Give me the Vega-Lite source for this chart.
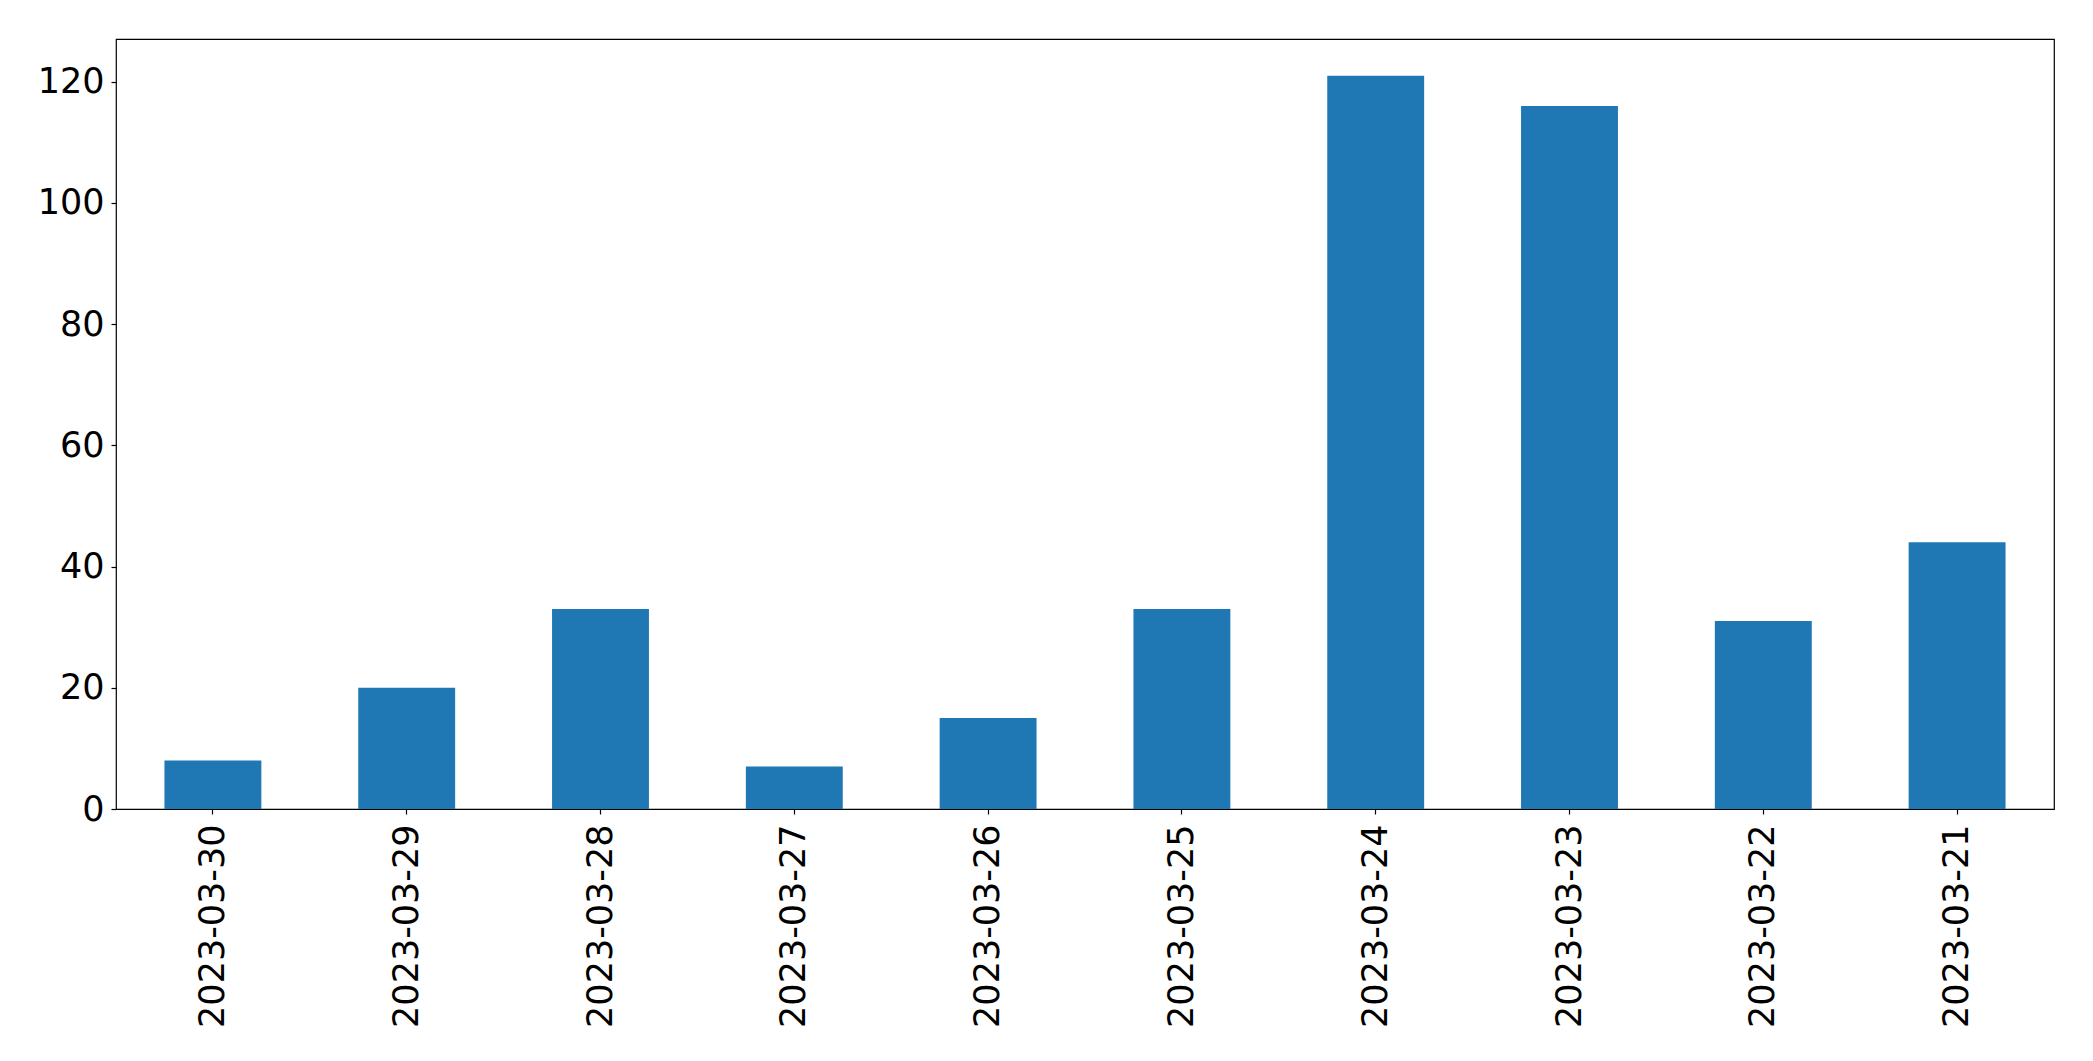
{
  "$schema": "https://vega.github.io/schema/vega-lite/v6.json",
  "autosize": {"type": "none"},
  "width": 1938,
  "height": 770,
  "padding": {"left": 116, "top": 39, "right": 39, "bottom": 252},
  "background": "white",
  "config": {
    "view": {"stroke": "black", "strokeWidth": 1.2},
    "font": "DejaVu Sans",
    "axis": {"labelFont": "DejaVu Sans", "labelColor": "black", "tickColor": "black", "domainColor": "black", "grid": false, "labelLimit": 0}
  },
  "data": {
    "values": [
      {"date": "2023-03-30", "count": 8},
      {"date": "2023-03-29", "count": 20},
      {"date": "2023-03-28", "count": 33},
      {"date": "2023-03-27", "count": 7},
      {"date": "2023-03-26", "count": 15},
      {"date": "2023-03-25", "count": 33},
      {"date": "2023-03-24", "count": 121},
      {"date": "2023-03-23", "count": 116},
      {"date": "2023-03-22", "count": 31},
      {"date": "2023-03-21", "count": 44}
    ]
  },
  "mark": {"type": "bar", "color": "#1f77b4"},
  "encoding": {
    "x": {
      "field": "date",
      "type": "nominal",
      "sort": null,
      "scale": {"paddingInner": 0.5, "paddingOuter": 0.25},
      "axis": {
        "title": null,
        "labelAngle": -90,
        "labelFontSize": 35,
        "labelPadding": 10,
        "labelLimit": 0,
        "tickSize": 5,
        "tickWidth": 1.2,
        "domain": false
      }
    },
    "y": {
      "field": "count",
      "type": "quantitative",
      "scale": {"domain": [0, 127.05], "nice": false, "zero": true},
      "axis": {
        "title": null,
        "values": [0, 20, 40, 60, 80, 100, 120],
        "labelFontSize": 35,
        "labelPadding": 7,
        "tickSize": 5,
        "tickWidth": 1.2,
        "domain": false
      }
    }
  }
}
